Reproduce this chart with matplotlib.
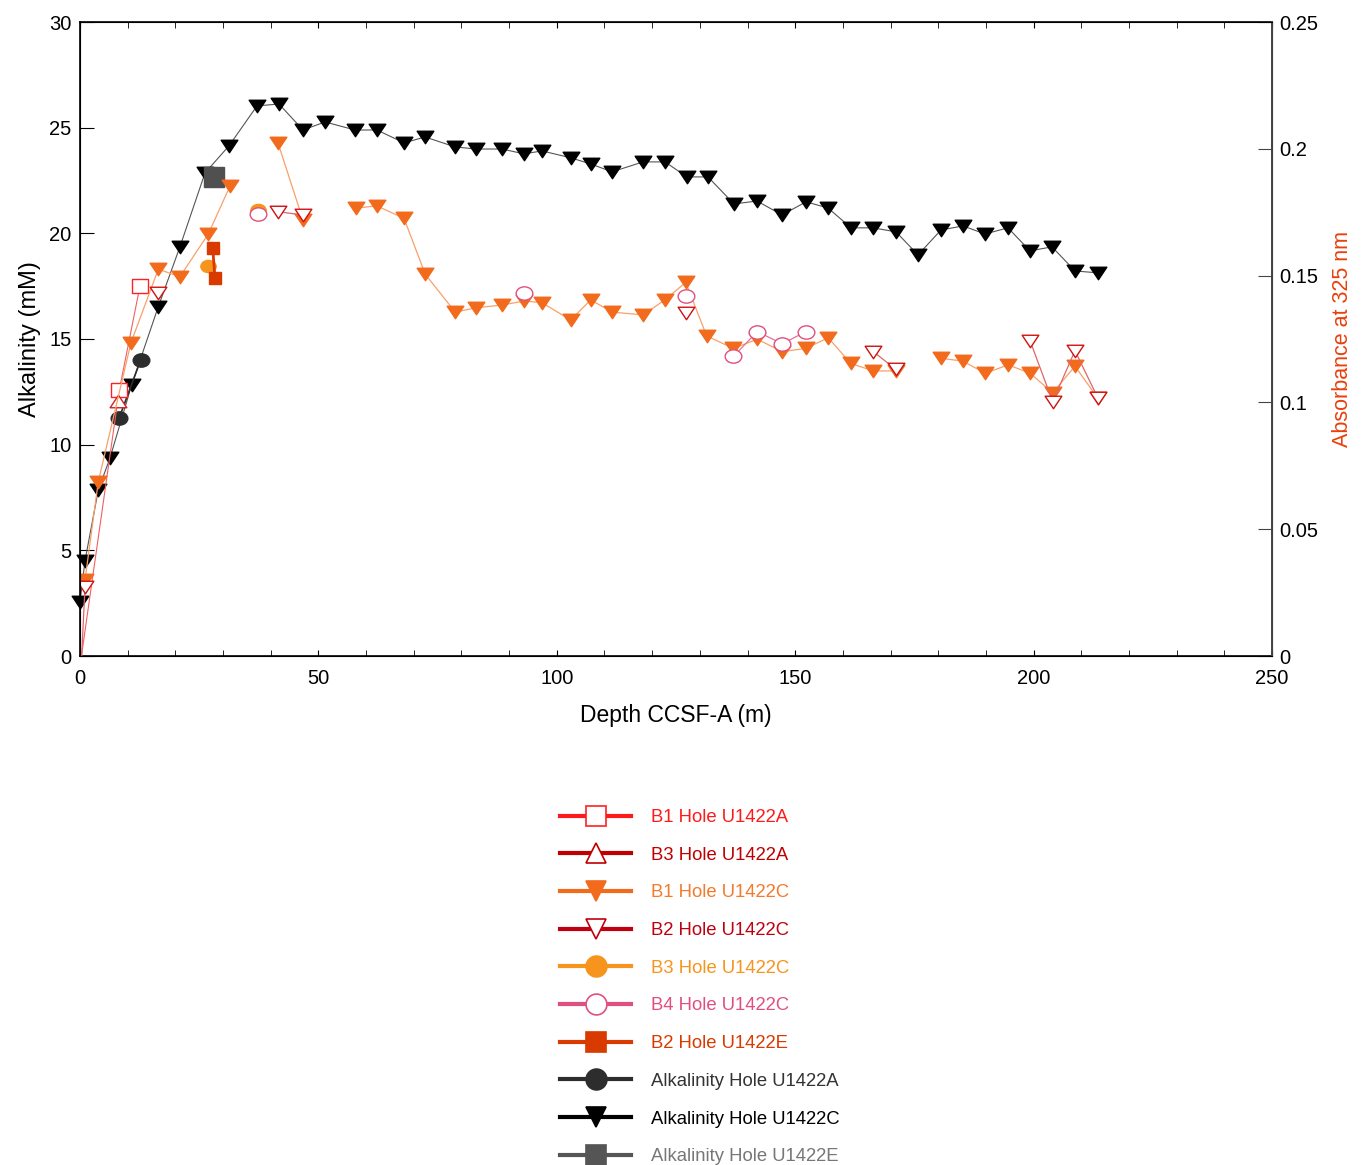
import numpy as np
import matplotlib
matplotlib.use("Agg")
import matplotlib.pyplot as plt
from matplotlib.lines import Line2D
from matplotlib.path import Path
from matplotlib.transforms import Affine2D

plt.rcParams['font.family'] = ['Liberation Sans', 'DejaVu Sans']

nan = np.nan

# Alkalinity (mM), left axis
alk_c_depth = [0.0, 1.05, 3.84, 6.29, 10.84, 16.42, 20.97, 26.22, 31.25, 37.12, 41.74, 46.77,
               51.38, 57.68, 62.29, 67.95, 72.36, 78.65, 83.05, 88.51, 93.12, 96.90, 102.98,
               107.17, 111.58, 118.08, 122.69, 127.31, 131.71, 137.16, 141.99, 147.23, 152.27,
               156.88, 161.70, 166.32, 171.14, 175.76, 180.58, 185.19, 189.81, 194.63, 199.24,
               203.86, 208.68, 213.51]
alk_c = [2.56, 4.51, 7.86, 9.37, 12.83, 16.53, 19.37, 22.86, 24.14, 26.03, 26.12, 24.89,
         25.27, 24.89, 24.89, 24.28, 24.56, 24.09, 23.99, 23.99, 23.76, 23.90, 23.57,
         23.28, 22.91, 23.38, 23.38, 22.67, 22.67, 21.39, 21.53, 20.87, 21.49,
         21.20, 20.26, 20.26, 20.07, 18.98, 20.16, 20.35, 19.97, 20.26, 19.17,
         19.36, 18.22, 18.13]
alk_a_depth = [8.24, 12.73]
alk_a = [11.28, 14.01]
alk_e_depth = [28.17]
alk_e = [22.68]

# Absorbance at 325 nm, right axis (nan = break in line)
b1c_depth = [1.05, 3.84, 10.70, 16.42, 20.97, 26.91, 31.46, nan, 41.53, 46.77, nan,
             57.89, 62.23, 67.95, 72.42, 78.71, 82.99, 88.57, 93.18, 96.90, 102.91,
             107.11, 111.64, 118.14, 122.63, 127.03, 131.44, 137.02, 142.05, 147.30, 152.20,
             156.94, 161.64, 166.38, 171.08, nan, 180.52, 185.13, 189.87, 194.69, 199.24,
             204.00, 208.68, 213.44]
b1c = [0.0300, 0.0688, 0.1236, 0.1525, 0.1496, 0.1664, 0.1853, nan, 0.2023, 0.1719, nan,
       0.1766, 0.1775, 0.1726, 0.1505, 0.1356, 0.1373, 0.1384, 0.1400, 0.1393, 0.1325,
       0.1404, 0.1356, 0.1345, 0.1404, 0.1473, 0.1262, 0.1213, 0.1249, 0.1200, 0.1213,
       0.1255, 0.1154, 0.1124, 0.1124, nan, 0.1174, 0.1163, 0.1115, 0.1148, 0.1115,
       0.1038, 0.1143, 0.1017]
b2c_depth = [0.35, 1.05, nan, 16.42, nan, 41.53, 46.77, nan, 127.03, nan, 166.38, 171.08,
             nan, 199.24, 204.00, 208.68, 213.44]
b2c = [0.0, 0.0273, nan, 0.1431, nan, 0.1752, 0.1739, nan, 0.1352, nan, 0.1200, 0.1131,
       nan, 0.1244, 0.1003, 0.1204, 0.1019]
b1a_depth = [0.30, 8.24, 12.58]
b1a = [0.0, 0.1049, 0.1459]
b3a_depth = [8.03]
b3a = [0.1007]
b3c_depth = [26.91, nan, 37.40]
b3c = [0.1538, nan, 0.1759]
b4c_depth = [37.40, nan, 93.18, nan, 127.03, nan, 137.02, 142.05, 147.30, 152.20]
b4c = [0.1741, nan, 0.1431, nan, 0.1420, nan, 0.1181, 0.1279, 0.1231, 0.1279]
b2e_depth = [27.83, 28.31]
b2e = [0.1610, 0.1489]

# slightly flattened markers
squash = Affine2D().scale(1.0, 0.75)
tri_down = Path([(0, -1), (-1, 1), (1, 1), (0, -1)], closed=True).transformed(squash)
tri_up = Path([(0, 1), (-1, -1), (1, -1), (0, 1)], closed=True).transformed(squash)
ellipse = Path.unit_circle().transformed(Affine2D().scale(1.0, 0.8))
rect = Path.unit_rectangle().transformed(Affine2D().translate(-0.5, -0.5).scale(1.0, 0.8))

fig = plt.figure(figsize=(13.62, 11.65), dpi=100)
ax = fig.add_axes([80 / 1362, 1 - 656 / 1165, 1192 / 1362, 634 / 1165])
ax2 = ax.twinx()

# alkalinity
ax.plot(alk_c_depth, alk_c, color='#555555', lw=0.8, marker=tri_down, ms=12,
        mfc='black', mec='black', clip_on=False, zorder=3)
ax.plot(alk_a_depth, alk_a, color='#2d2d2d', lw=1.2, marker=ellipse, ms=12,
        mfc='#2d2d2d', mec='#2d2d2d', zorder=3)
ax.plot(alk_e_depth, alk_e, color='#505050', lw=1, marker='s', ms=15,
        mfc='#505050', mec='#505050', zorder=4)

# absorbance
ax2.plot(b1a_depth, b1a, color='#f06060', lw=0.8, marker=rect, ms=12, mfc='white',
         mec='#ff2020', markevery=[1, 2])
ax2.plot(b3a_depth, b3a, color='#c00000', lw=0.8, marker=tri_up, ms=12,
         mfc='white', mec='#d02020')
ax2.plot(b1c_depth, b1c, color='#f9a06a', lw=0.9, marker=tri_down, ms=12,
         mfc='#f26b1d', mec='#f26b1d')
ax2.plot(b2c_depth, b2c, color='#e06666', lw=0.9, marker=tri_down, ms=12,
         mfc='white', mec='#d01010', markevery=list(range(1, len(b2c))))
ax2.plot(b3c_depth, b3c, color='#f7941d', lw=0.8, marker=ellipse, ms=11,
         mfc='#f7941d', mec='#f7941d')
ax2.plot(b4c_depth, b4c, color='#e8709a', lw=0.9, marker=ellipse, ms=12,
         mfc='white', mec='#e0507f')
ax2.plot(b2e_depth, b2e, color='#d93a00', lw=2, marker='s', ms=9,
         mfc='#d93a00', mec='#d93a00')

ax.set_xlim(0, 250)
ax.set_ylim(0, 30)
ax2.set_ylim(0, 0.25)

ax.set_xticks(np.arange(0, 251, 50))
ax.set_xticks(np.arange(0, 251, 10), minor=True)
ax.set_yticks(np.arange(0, 31, 5))
ax2.set_yticks(np.arange(0, 0.251, 0.05))
ax2.set_yticklabels(['0', '0.05', '0.1', '0.15', '0.2', '0.25'])

ax.tick_params(axis='x', which='both', direction='in', top=True, length=4,
               labelsize=14.5, pad=9)
ax.tick_params(axis='y', direction='in', length=10, labelsize=14.5, pad=6, right=False)
ax2.tick_params(axis='y', direction='in', length=10, labelsize=14.5, pad=5, color='#444444')
ax2.spines['right'].set_color('#444444')
for sp in ['left', 'top', 'bottom']:
    ax.spines[sp].set_linewidth(1.2)
ax2.spines['right'].set_linewidth(1.4)

ax.set_xlabel('Depth CCSF-A (m)', fontsize=16.5, labelpad=12)
ax.set_ylabel('Alkalinity (mM)', fontsize=17, labelpad=6)
ax2.set_ylabel('Absorbance at 325 nm', fontsize=15.5, color='#e8400c', labelpad=10)

# legend
entries = [
    ('B1 Hole U1422A', '#ff1a1a', 's', 'white', '#ff2020', '#ff1a1a'),
    ('B3 Hole U1422A', '#c00000', '^', 'white', '#c00000', '#c00000'),
    ('B1 Hole U1422C', '#f26b1d', 'v', '#f26b1d', '#f26b1d', '#f47a2c'),
    ('B2 Hole U1422C', '#c00010', 'v', 'white', '#c00010', '#c00010'),
    ('B3 Hole U1422C', '#f7941d', 'o', '#f7941d', '#f7941d', '#f7941d'),
    ('B4 Hole U1422C', '#e0507f', 'o', 'white', '#e0507f', '#e0507f'),
    ('B2 Hole U1422E', '#d93a00', 's', '#d93a00', '#d93a00', '#d93a00'),
    ('Alkalinity Hole U1422A', '#2d2d2d', 'o', '#2d2d2d', '#2d2d2d', '#333333'),
    ('Alkalinity Hole U1422C', 'black', 'v', 'black', 'black', 'black'),
    ('Alkalinity Hole U1422E', '#555555', 's', '#555555', '#555555', '#777777'),
]
handles = []
for label, col, mk, fc, ec, tc in entries:
    handles.append(Line2D([], [], color=col, lw=3, marker=mk, ms=15, mfc=fc, mec=ec, mew=1.2,
                          label=label))
fig.legend(handles=handles, loc='upper left', bbox_to_anchor=(560 / 1362, 1 - 809 / 1165),
           frameon=False, fontsize=13.3, handlelength=3.85, handletextpad=1.05,
           labelspacing=1.12, borderpad=0, borderaxespad=0,
           labelcolor=[e[5] for e in entries])

fig.savefig('out.png', dpi=100)
